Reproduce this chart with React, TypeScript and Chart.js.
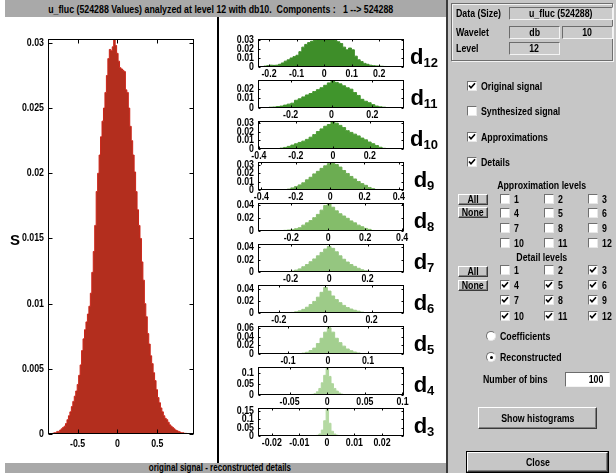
import React, { useEffect, useRef } from 'react';
import { Chart, registerables } from 'chart.js';

Chart.register(...registerables);

const SANS = '"Liberation Sans", Arial, Helvetica, sans-serif';
const SQUEEZE = 0.8;

// ---------------- data ----------------
const titleText = 'u_fluc (524288 Values) analyzed at level 12 with db10.  Components :   1 --> 524288';
const footerText = 'original signal - reconstructed details';
const yAxisLabel = 'S';

// original signal histogram (100 bins)
const signalRange = [-0.871, 0.961];
const signalYMax = 0.0303;
const signalXTicks = ['-0.5', '0', '0.5'];
const signalYTicks = ['0', '0.005', '0.01', '0.015', '0.02', '0.025', '0.03'];
const signalValues = [
  0, 0, 0, 0.00005, 0.0001, 0.0001, 0.0002, 0.0002, 0.0003, 0.0004,
  0.0005, 0.0006, 0.0008, 0.0011, 0.0014, 0.0017, 0.0021, 0.0025, 0.0029, 0.0033,
  0.0038, 0.0045, 0.0053, 0.0064, 0.0073, 0.008, 0.0086, 0.0092, 0.0098, 0.0108,
  0.0124, 0.014, 0.016, 0.0186, 0.02, 0.0214, 0.0228, 0.024, 0.025, 0.0262,
  0.0275, 0.0288, 0.0295, 0.0294, 0.0297, 0.0303, 0.0298, 0.0292, 0.0286, 0.0281,
  0.028, 0.0279, 0.0278, 0.0264, 0.0262, 0.025, 0.0236, 0.0225, 0.0214, 0.0201,
  0.0186, 0.0172, 0.016, 0.015, 0.0132, 0.0118, 0.01, 0.009, 0.0077, 0.0069,
  0.006, 0.0054, 0.0047, 0.0041, 0.0034, 0.0028, 0.0024, 0.002, 0.0017, 0.0014,
  0.0012, 0.0011, 0.0009, 0.0007, 0.0006, 0.0005, 0.0004, 0.0003, 0.00025, 0.0002,
  0.00015, 0.0001, 0.0001, 0.00005, 0.00005, 0.00003, 0, 0, 0, 0,
];

// detail histograms
const d12Range = [-0.24, 0.29];
const d12YMax = 0.031;
const d12XTicks = ['-0.2', '-0.1', '0', '0.1', '0.2'];
const d12YTicks = ['0', '0.01', '0.02', '0.03'];
const d12Values = [
  0.0003, 0.0005, 0.001, 0.0015, 0.002, 0.0018, 0.002, 0.003, 0.0045, 0.0065,
  0.008, 0.01, 0.0115, 0.013, 0.017, 0.022, 0.025, 0.027, 0.0285, 0.0295,
  0.03, 0.0305, 0.031, 0.031, 0.0308, 0.0305, 0.0295, 0.028, 0.026, 0.022,
  0.019, 0.021, 0.019, 0.012, 0.008, 0.006, 0.004, 0.003, 0.002, 0.0015,
  0.0012, 0.001, 0.0008, 0.0006, 0.0005, 0.0004, 0.0003, 0.0002, 0.0001, 0,
];

const d11Range = [-0.36, 0.355];
const d11YMax = 0.029;
const d11XTicks = ['-0.2', '0', '0.2'];
const d11YTicks = ['0', '0.01', '0.02'];
const d11Values = [
  0, 0, 0.0003, 0.0008, 0.001, 0.0015, 0.002, 0.003, 0.004, 0.005,
  0.008, 0.0095, 0.0115, 0.0135, 0.015, 0.017, 0.019, 0.021, 0.0235, 0.026,
  0.0288, 0.0265, 0.025, 0.023, 0.021, 0.0195, 0.016, 0.013, 0.009, 0.007,
  0.0055, 0.0035, 0.002, 0.0012, 0.0008, 0.0004, 0.0002, 0, 0, 0,
];

const d10Range = [-0.405, 0.385];
const d10YMax = 0.032;
const d10XTicks = ['-0.4', '-0.2', '0', '0.2'];
const d10YTicks = ['0', '0.01', '0.02', '0.03'];
const d10Values = [
  0, 0, 0, 0, 0, 0.0003, 0.001, 0.0018, 0.003, 0.0045,
  0.006, 0.0075, 0.009, 0.011, 0.0135, 0.0165, 0.02, 0.023, 0.026, 0.028,
  0.031, 0.0295, 0.027, 0.0245, 0.021, 0.019, 0.017, 0.015, 0.0125, 0.0105,
  0.008, 0.006, 0.004, 0.002, 0.0008, 0.0003, 0, 0, 0, 0,
];

const d9Range = [-0.42, 0.43];
const d9YMax = 0.033;
const d9XTicks = ['-0.4', '-0.2', '0', '0.2', '0.4'];
const d9YTicks = ['0', '0.01', '0.02', '0.03'];
const d9Values = [
  0, 0, 0, 0, 0, 0, 0.0002, 0.0005, 0.001, 0.0025,
  0.004, 0.006, 0.0085, 0.012, 0.015, 0.019, 0.022, 0.0255, 0.0285, 0.031,
  0.0315, 0.03, 0.027, 0.023, 0.0195, 0.016, 0.013, 0.01, 0.0075, 0.0055,
  0.003, 0.0015, 0.0006, 0.0002, 0, 0, 0, 0, 0, 0,
];

const d8Range = [-0.38, 0.41];
const d8YMax = 0.043;
const d8XTicks = ['-0.2', '0', '0.2', '0.4'];
const d8YTicks = ['0', '0.02', '0.04'];
const d8Values = [
  0, 0, 0, 0, 0, 0, 0.0005, 0.001, 0.0015, 0.002,
  0.0035, 0.005, 0.009, 0.0125, 0.016, 0.0205, 0.0255, 0.032, 0.039, 0.0415,
  0.0365, 0.031, 0.0265, 0.023, 0.0195, 0.0155, 0.0125, 0.009, 0.0065, 0.004,
  0.0025, 0.0008, 0.0003, 0, 0, 0, 0, 0, 0, 0,
];

const d7Range = [-0.37, 0.39];
const d7YMax = 0.045;
const d7XTicks = ['-0.2', '0', '0.2'];
const d7YTicks = ['0', '0.02', '0.04'];
const d7Values = [
  0, 0, 0, 0, 0, 0, 0, 0.0003, 0.0005, 0.0015,
  0.003, 0.005, 0.0085, 0.012, 0.0165, 0.021, 0.026, 0.0315, 0.037, 0.041,
  0.038, 0.0325, 0.026, 0.0205, 0.016, 0.012, 0.009, 0.006, 0.0035, 0.002,
  0.0012, 0.0005, 0, 0, 0, 0, 0, 0, 0, 0,
];

const d6Range = [-0.29, 0.34];
const d6YMax = 0.046;
const d6XTicks = ['-0.2', '0', '0.2'];
const d6YTicks = ['0', '0.02', '0.04'];
const d6Values = [
  0, 0, 0, 0, 0, 0, 0, 0, 0.0005, 0.001,
  0.002, 0.0035, 0.006, 0.0095, 0.014, 0.019, 0.026, 0.034, 0.042, 0.036,
  0.028, 0.022, 0.017, 0.0125, 0.009, 0.0065, 0.0045, 0.003, 0.0015, 0.0008,
  0.0003, 0, 0, 0, 0, 0, 0, 0, 0, 0,
];

const d5Range = [-0.175, 0.19];
const d5YMax = 0.064;
const d5XTicks = ['-0.1', '0', '0.1'];
const d5YTicks = ['0', '0.02', '0.04', '0.06'];
const d5Values = [
  0, 0, 0, 0, 0, 0, 0, 0, 0, 0,
  0.0005, 0.001, 0.002, 0.004, 0.008, 0.0135, 0.024, 0.036, 0.05, 0.06,
  0.05, 0.036, 0.026, 0.018, 0.0115, 0.0075, 0.0045, 0.0025, 0.0012, 0.0005,
  0, 0, 0, 0, 0, 0, 0, 0, 0, 0,
];

const d4Range = [-0.092, 0.102];
const d4YMax = 0.128;
const d4XTicks = ['-0.05', '0', '0.05', '0.1'];
const d4YTicks = ['0', '0.05', '0.1'];
const d4Values = [
  0, 0, 0, 0, 0, 0, 0, 0, 0, 0,
  0, 0, 0, 0, 0, 0, 0, 0, 0, 0,
  0.0005, 0.0015, 0.003, 0.006, 0.015, 0.03, 0.056, 0.09, 0.122, 0.085,
  0.052, 0.03, 0.018, 0.009, 0.004, 0.002, 0.0008, 0, 0, 0,
  0, 0, 0, 0, 0, 0, 0, 0, 0, 0,
  0, 0, 0, 0, 0, 0, 0, 0, 0, 0,
];

const d3Range = [-0.025, 0.028];
const d3YMax = 0.165;
const d3XTicks = ['-0.02', '-0.01', '0', '0.01', '0.02'];
const d3YTicks = ['0', '0.05', '0.1', '0.15'];
const d3Values = [
  0, 0, 0, 0, 0, 0, 0, 0, 0, 0,
  0, 0, 0, 0, 0, 0, 0, 0, 0, 0,
  0, 0, 0.0003, 0.001, 0.004, 0.012, 0.035, 0.09, 0.157, 0.075,
  0.028, 0.012, 0.005, 0.002, 0.0005, 0, 0, 0, 0, 0,
  0, 0, 0, 0, 0, 0, 0, 0, 0, 0,
  0, 0, 0, 0, 0, 0, 0, 0, 0, 0,
];

type Hist = { range: number[]; yMax: number; xTicks: string[]; yTicks: string[]; values: number[] };

const signalHist: Hist = { range: signalRange, yMax: signalYMax, xTicks: signalXTicks, yTicks: signalYTicks, values: signalValues };

const detailLevels = ['12', '11', '10', '9', '8', '7', '6', '5', '4', '3'];
const detailHists: Hist[] = [
  { range: d12Range, yMax: d12YMax, xTicks: d12XTicks, yTicks: d12YTicks, values: d12Values },
  { range: d11Range, yMax: d11YMax, xTicks: d11XTicks, yTicks: d11YTicks, values: d11Values },
  { range: d10Range, yMax: d10YMax, xTicks: d10XTicks, yTicks: d10YTicks, values: d10Values },
  { range: d9Range, yMax: d9YMax, xTicks: d9XTicks, yTicks: d9YTicks, values: d9Values },
  { range: d8Range, yMax: d8YMax, xTicks: d8XTicks, yTicks: d8YTicks, values: d8Values },
  { range: d7Range, yMax: d7YMax, xTicks: d7XTicks, yTicks: d7YTicks, values: d7Values },
  { range: d6Range, yMax: d6YMax, xTicks: d6XTicks, yTicks: d6YTicks, values: d6Values },
  { range: d5Range, yMax: d5YMax, xTicks: d5XTicks, yTicks: d5YTicks, values: d5Values },
  { range: d4Range, yMax: d4YMax, xTicks: d4XTicks, yTicks: d4YTicks, values: d4Values },
  { range: d3Range, yMax: d3YMax, xTicks: d3XTicks, yTicks: d3YTicks, values: d3Values },
];

// panel state
const approxChecked = [false, false, false, false, false, false, false, false, false, false, false, false];
const detailChecked = [false, false, true, true, true, true, true, true, true, true, true, true];

// ---------------- styles ----------------
const detailFills = ['#3e8e29', '#40952c', '#4c9c35', '#6cad52', '#84bd6a', '#95c680', '#9dcb88', '#a3cf8f', '#aed59b', '#b5d9a3'];

// ---------------- chart ----------------
// draws the MATLAB-like axes box, inward ticks, and condensed bold tick labels
const framePlugin = {
  id: 'frame',
  afterDraw(chart: any, _args: any, opts: any) {
    const { ctx, chartArea: a, scales } = chart;
    const len = opts.tickLen ?? 3;
    const l = Math.round(a.left) + 0.5;
    const r = Math.round(a.right) - 0.5;
    const t = Math.round(a.top) + 0.5;
    const b = Math.round(a.bottom) - 0.5;
    ctx.save();
    ctx.strokeStyle = '#000';
    ctx.lineWidth = 1;
    ctx.beginPath();
    for (const tk of scales.x.ticks) {
      const px = Math.round(scales.x.getPixelForValue(tk.value)) + 0.5;
      ctx.moveTo(px, b); ctx.lineTo(px, b - len);
      ctx.moveTo(px, t); ctx.lineTo(px, t + len);
    }
    for (const tk of scales.y.ticks) {
      const py = Math.round(scales.y.getPixelForValue(tk.value)) + 0.5;
      ctx.moveTo(l, py); ctx.lineTo(l + len, py);
      ctx.moveTo(r, py); ctx.lineTo(r - len, py);
    }
    ctx.stroke();
    ctx.strokeRect(l, t, r - l, b - t);

    ctx.fillStyle = '#000';
    ctx.font = `bold ${opts.fontSize}px ${SANS}`;
    ctx.textAlign = 'center';
    ctx.textBaseline = 'top';
    scales.x.ticks.forEach((tk: any, i: number) => {
      const px = scales.x.getPixelForValue(tk.value);
      ctx.save();
      ctx.translate(px, a.bottom + opts.xPad);
      ctx.scale(SQUEEZE, 1);
      ctx.fillText(opts.xLabels[i], 0, 0);
      ctx.restore();
    });
    ctx.textAlign = 'right';
    ctx.textBaseline = 'middle';
    scales.y.ticks.forEach((tk: any, i: number) => {
      const py = scales.y.getPixelForValue(tk.value);
      ctx.save();
      ctx.translate(a.left - opts.yPad, py);
      ctx.scale(SQUEEZE, 1);
      ctx.fillText(opts.yLabels[i], 0, 0);
      ctx.restore();
    });
    ctx.restore();
  },
};

type Frame = {
  cl: number; ct: number; cw: number; ch: number;
  pl: number; pt: number; pr: number; pb: number;
  xh: number; xPad: number; yPad: number; tickLen: number; fontSize: number;
  fill: string; stroke: string; strokeWidth: number;
};

function HistChart({ hist, f }: { hist: Hist; f: Frame }) {
  const ref = useRef<HTMLCanvasElement>(null);
  useEffect(() => {
    const canvas = ref.current!;
    const [lo, hi] = hist.range;
    const w = (hi - lo) / hist.values.length;
    const pts = hist.values.map((v, i) => ({ x: lo + (i + 0.5) * w, y: v }));
    const chart = new Chart(canvas, {
      type: 'line',
      data: {
        datasets: [{
          data: pts,
          stepped: 'middle',
          fill: 'origin',
          backgroundColor: f.fill,
          borderColor: f.stroke,
          borderWidth: f.strokeWidth,
          pointRadius: 0,
        } as any],
      },
      options: {
        animation: false,
        responsive: false,
        maintainAspectRatio: false,
        devicePixelRatio: 1,
        events: [],
        layout: {
          padding: {
            left: 0,
            top: f.pt - f.ct,
            right: f.cl + f.cw - f.pr,
            bottom: f.ct + f.ch - f.pb - f.xh,
          },
        },
        plugins: {
          legend: { display: false },
          tooltip: { enabled: false },
          frame: {
            tickLen: f.tickLen, fontSize: f.fontSize, xPad: f.xPad, yPad: f.yPad,
            xLabels: hist.xTicks, yLabels: hist.yTicks,
          },
        } as any,
        scales: {
          x: {
            type: 'linear',
            min: lo,
            max: hi,
            grid: { display: false, drawTicks: false },
            border: { display: false },
            ticks: { display: false },
            afterBuildTicks: (s: any) => { s.ticks = hist.xTicks.map((t) => ({ value: parseFloat(t) })); },
            afterFit: (s: any) => { s.height = f.xh; s.paddingLeft = 0; s.paddingRight = 0; },
          } as any,
          y: {
            type: 'linear',
            min: 0,
            max: hist.yMax,
            grid: { display: false, drawTicks: false },
            border: { display: false },
            ticks: { display: false },
            afterBuildTicks: (s: any) => { s.ticks = hist.yTicks.map((t) => ({ value: parseFloat(t) })); },
            afterFit: (s: any) => { s.width = f.pl - f.cl; s.paddingTop = 0; s.paddingBottom = 0; },
          } as any,
        },
      },
      plugins: [framePlugin as any],
    });
    return () => chart.destroy();
  }, []);
  return (
    <canvas
      ref={ref}
      width={f.cw}
      height={f.ch}
      style={{ position: 'absolute', left: f.cl, top: f.ct, width: f.cw, height: f.ch }}
    />
  );
}

// ---------------- GUI bits ----------------
const abs = (x: number, y: number, w?: number, h?: number): React.CSSProperties => ({
  position: 'absolute', left: x, top: y, width: w, height: h,
});

function Sq({ children, origin = 'left center' }: { children: React.ReactNode; origin?: string }) {
  return (
    <span style={{ display: 'inline-block', transform: `scaleX(${SQUEEZE})`, transformOrigin: origin, whiteSpace: 'pre' }}>
      {children}
    </span>
  );
}

function Text({ x, y, children, center, size = 11 }: { x: number; y: number; children: React.ReactNode; center?: boolean; size?: number }) {
  const st: React.CSSProperties = {
    position: 'absolute', top: y - 7, height: 14, lineHeight: '14px', fontSize: size, fontWeight: 'bold',
    whiteSpace: 'nowrap', fontFamily: SANS, color: '#000',
  };
  if (center) { st.left = x - 100; st.width = 200; st.textAlign = 'center'; } else { st.left = x; }
  return <div style={st}><Sq origin={center ? 'center center' : 'left center'}>{children}</Sq></div>;
}

function Field({ x, y, w, h, children, white, right }: { x: number; y: number; w: number; h: number; children: React.ReactNode; white?: boolean; right?: boolean }) {
  return (
    <div style={{
      ...abs(x, y, w, h), boxSizing: 'border-box', background: white ? '#fff' : '#cbcbcb',
      borderStyle: 'solid', borderWidth: 1, borderColor: '#6c6c6c #f4f4f4 #f4f4f4 #6c6c6c',
      fontFamily: SANS, fontSize: 11, fontWeight: 'bold', lineHeight: `${h - 2}px`,
      textAlign: right ? 'right' : 'center', paddingRight: right ? 6 : 0, whiteSpace: 'nowrap', overflow: 'hidden',
    }}><Sq origin={right ? 'right center' : 'center center'}>{children}</Sq></div>
  );
}

function Button({ x, y, w, h, children, outline }: { x: number; y: number; w: number; h: number; children: React.ReactNode; outline?: boolean }) {
  return (
    <div style={{
      ...abs(x, y, w, h), boxSizing: 'border-box', background: '#c6c6c6',
      borderStyle: 'solid', borderWidth: 1, borderColor: '#ffffff #3a3a3a #3a3a3a #ffffff',
      boxShadow: outline ? 'inset -1px -1px 0 #808080, 0 0 0 1px #000' : 'inset -1px -1px 0 #808080',
      fontFamily: SANS, fontSize: 11, fontWeight: 'bold', lineHeight: `${h - 2}px`, textAlign: 'center', whiteSpace: 'nowrap',
    }}><Sq origin="center center">{children}</Sq></div>
  );
}

function Check({ x, y, checked, label }: { x: number; y: number; checked: boolean; label?: string }) {
  return (
    <>
      <div style={{
        ...abs(x, y - 5, 10, 10), boxSizing: 'border-box', background: '#fff',
        borderStyle: 'solid', borderWidth: 1, borderColor: '#707070 #e8e8e8 #e8e8e8 #707070',
      }}>
        {checked && (
          <svg width={8} height={8} viewBox="0 0 8 8" style={{ position: 'absolute', left: 0, top: 0 }}>
            <path d="M1 3.5 L3 5.8 L7 1.2" stroke="#000" strokeWidth={1.6} fill="none" />
          </svg>
        )}
      </div>
      {label && <Text x={x + 14} y={y}>{label}</Text>}
    </>
  );
}

function Radio({ x, y, checked, label }: { x: number; y: number; checked: boolean; label: string }) {
  return (
    <>
      <div style={{
        ...abs(x - 5, y - 5, 10, 10), boxSizing: 'border-box', borderRadius: '50%', background: '#fff',
        borderStyle: 'solid', borderWidth: 1, borderColor: '#707070 #e8e8e8 #e8e8e8 #707070',
      }}>
        {checked && <div style={{ ...abs(2.5, 2.5, 3, 3), borderRadius: '50%', background: '#000' }} />}
      </div>
      <Text x={x + 9} y={y}>{label}</Text>
    </>
  );
}

function CheckGrid({ rows, states }: { rows: number[]; states: boolean[] }) {
  const cols = [500, 544, 588];
  const items: React.ReactNode[] = [];
  rows.forEach((ry, r) => {
    cols.forEach((cx, c) => {
      const n = r * 3 + c;
      items.push(<Check key={n} x={cx} y={ry} checked={states[n]} label={String(n + 1)} />);
    });
  });
  return <>{items}</>;
}

export default function App() {
  const bigFrame: Frame = {
    cl: 0, ct: 17, cw: 217, ch: 446,
    pl: 48, pt: 39, pr: 194, pb: 434,
    xh: 20, xPad: 4, yPad: 4, tickLen: 4, fontSize: 11,
    fill: '#b32e1e', stroke: '#cc2418', strokeWidth: 1,
  };

  const detailTops = detailLevels.map((_, k) => Math.round(39 + 41.05 * k));

  return (
    <div style={{ position: 'fixed', left: 0, top: 0, width: 616, height: 473, background: '#fff', overflow: 'hidden', fontFamily: SANS }}>
      {/* title bar */}
      <div style={{ ...abs(5, 0, 442, 17), background: '#a9a9a9' }} />
      <div style={{
        ...abs(5, 1, 430, 17), lineHeight: '17px', textAlign: 'center', fontFamily: SANS,
        fontSize: 11, fontWeight: 'bold', whiteSpace: 'pre', color: '#000',
      }}><Sq origin="center center">{titleText}</Sq></div>

      {/* footer bar */}
      <div style={{ ...abs(5, 463, 442, 10), background: '#a9a9a9' }} />
      <div style={{
        ...abs(5, 462, 430, 11), lineHeight: '11px', textAlign: 'center', fontFamily: SANS,
        fontSize: 10, fontWeight: 'bold', whiteSpace: 'nowrap', color: '#000',
      }}><Sq origin="center center">{footerText}</Sq></div>

      {/* divider */}
      <div style={{ ...abs(217, 17, 2, 446), background: '#000' }} />

      {/* big histogram */}
      <HistChart hist={signalHist} f={bigFrame} />
      <div style={{ ...abs(10, 230, 14, 20), fontFamily: SANS, fontSize: 15, fontWeight: 'bold', lineHeight: '20px' }}>{yAxisLabel}</div>

      {/* detail histograms */}
      {detailHists.map((h, k) => {
        const top = detailTops[k];
        const f: Frame = {
          cl: 220, ct: top - 6, cw: 226, ch: 50,
          pl: 258, pt: top, pr: 404, pb: top + 28,
          xh: 14, xPad: 1, yPad: 4, tickLen: 2, fontSize: 11,
          fill: detailFills[k], stroke: detailFills[k], strokeWidth: 1,
        };
        return <HistChart key={k} hist={h} f={f} />;
      })}
      {detailLevels.map((lv, k) => {
        const bottom = detailTops[k] + 28;
        return (
          <div key={'l' + k} style={{
            ...abs(404, bottom - 21, 40, 24), textAlign: 'center', fontFamily: SANS, fontSize: 22,
            fontWeight: 'bold', lineHeight: '22px', whiteSpace: 'nowrap', color: '#000',
          }}>
            d<span style={{ fontSize: 13, fontWeight: 'bold', position: 'relative', top: 3 }}>{lv}</span>
          </div>
        );
      })}

      {/* right border + panel */}
      <div style={{ ...abs(446, 0, 2, 473), background: '#3a3a3a' }} />
      <div style={{ ...abs(448, 0, 168, 473), background: '#c6c6c6' }} />
      <div style={{ ...abs(451, 3, 162, 58), boxSizing: 'border-box', border: '1px solid #6e6e6e', boxShadow: '1px 1px 0 #f2f2f2, inset 1px 1px 0 #f2f2f2' }} />

      <Text x={456} y={13}>Data (Size)</Text>
      <Field x={509} y={7} w={104} h={13}>u_fluc (524288)</Field>
      <Text x={456} y={32}>Wavelet</Text>
      <Field x={509} y={26} w={51} h={13}>db</Field>
      <Field x={562} y={26} w={51} h={13}>10</Field>
      <Text x={456} y={48}>Level</Text>
      <Field x={509} y={42} w={51} h={13}>12</Field>

      <Check x={467} y={86} checked={true} label="Original signal" />
      <Check x={467} y={111} checked={false} label="Synthesized signal" />
      <Check x={467} y={137} checked={true} label="Approximations" />
      <Check x={467} y={162} checked={true} label="Details" />

      <Text x={542} y={185} center>Approximation levels</Text>
      <Button x={458} y={194} w={30} h={11}>All</Button>
      <Button x={458} y={207} w={30} h={11}>None</Button>
      <CheckGrid rows={[199, 213, 228, 243]} states={approxChecked} />

      <Text x={542} y={257} center>Detail levels</Text>
      <Button x={458} y={266} w={30} h={11}>All</Button>
      <Button x={458} y={280} w={30} h={11}>None</Button>
      <CheckGrid rows={[270, 285, 300, 316]} states={detailChecked} />

      <Radio x={491} y={336} checked={false} label="Coefficients" />
      <Radio x={491} y={357} checked={true} label="Reconstructed" />

      <Text x={483} y={379}>Number of bins</Text>
      <Field x={565} y={372} w={45} h={15} white right>100</Field>

      <Button x={478} y={407} w={119} h={22}>Show histograms</Button>
      <Button x={467} y={452} w={141} h={20} outline>Close</Button>
    </div>
  );
}
